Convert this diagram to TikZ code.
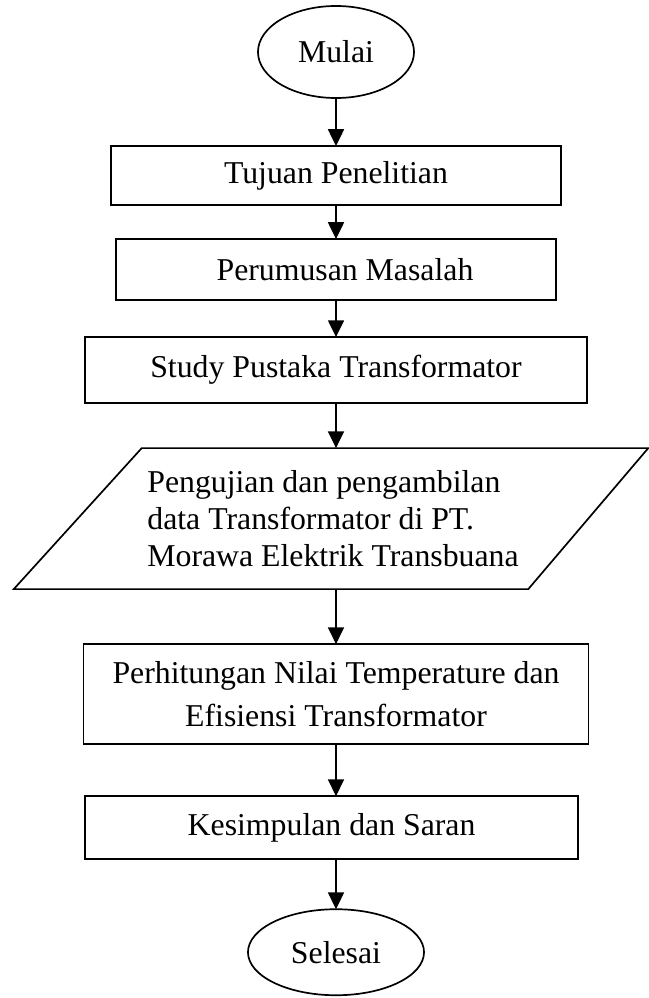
\documentclass[tikz,border=0pt]{standalone}
\usepackage{fontspec}
\setmainfont{Liberation Serif}
\usetikzlibrary{arrows.meta, positioning, shapes.geometric, calc}

\begin{document}
\begin{tikzpicture}[>=Triangle, node distance=1cm, x=0.025cm, y=-0.025cm,
    every node/.style = {font=\fontsize{22.6}{26}\selectfont, outer sep=0pt},
    startstop/.style = {ellipse, draw=black, line width=1.2pt, inner sep=0pt},
    process/.style = {rectangle, draw=black, line width=1.2pt, text centered, inner sep=0pt},
    io/.style = {rectangle, inner sep=0pt, align=left},
    arrow/.style = {line width=1.2pt, -{Triangle[length=4.2mm, width=4mm]}}]
        \useasboundingbox (0,0) rectangle (649,998);

        % Nodes
        \node (mulai) [startstop, minimum width=3.9cm, minimum height=2.3cm] at (336,52) {Mulai};
        \node (tujuan) [process, below=1.2cm of mulai, minimum width=11.25cm, minimum height=1.475cm] {Tujuan Penelitian};
        \node (perumusan) [process, below=0.85cm of tujuan, minimum width=11cm, minimum height=1.525cm] {\hspace*{0.45cm}Perumusan Masalah};
        \node (study) [process, below=0.925cm of perumusan, minimum width=12.55cm, minimum height=1.65cm] {Study Pustaka Transformator};
        \node (pengujian) [io, below=1.125cm of study, xshift=-0.075cm, minimum width=12.76cm, minimum height=3.525cm] {Pengujian dan pengambilan\\ data Transformator di PT.\\ Morawa Elektrik Transbuana};
        \node (perhitungan) [process, below=1.375cm of pengujian, xshift=0.075cm, minimum width=12.625cm, minimum height=2.5cm, align=center, font=\fontsize{22.6}{30}\selectfont] {Perhitungan Nilai Temperature dan\\ Efisiensi Transformator};
        \node (kesimpulan) [process, below=1.3cm of perhitungan, xshift=-0.11cm, minimum width=12.325cm, minimum height=1.575cm] {Kesimpulan dan Saran};
        \node (selesai) [startstop, below=1.25cm of kesimpulan, xshift=0.11cm, minimum width=4.4cm, minimum height=2.15cm] {Selesai};

        % Parallelogram
        \draw [line width=1.2pt] ($(pengujian.north west)+(64,0)$) -- ($(pengujian.north east)+(60,0)$)
            -- ($(pengujian.south east)+(-60,0)$) -- ($(pengujian.south west)+(-64,0)$) -- cycle;

        % Arrows
        \draw [arrow] (mulai.south) -- (tujuan.north);
        \draw [arrow] (tujuan.south) -- (perumusan.north);
        \draw [arrow] (perumusan.south) -- (study.north);
        \draw [arrow] (study.south) -- (study.south |- pengujian.north);
        \draw [arrow] (perhitungan.north |- pengujian.south) -- (perhitungan.north);
        \draw [arrow] (perhitungan.south) -- (perhitungan.south |- kesimpulan.north);
        \draw [arrow] (selesai.north |- kesimpulan.south) -- (selesai.north);
    \end{tikzpicture}
\end{document}
